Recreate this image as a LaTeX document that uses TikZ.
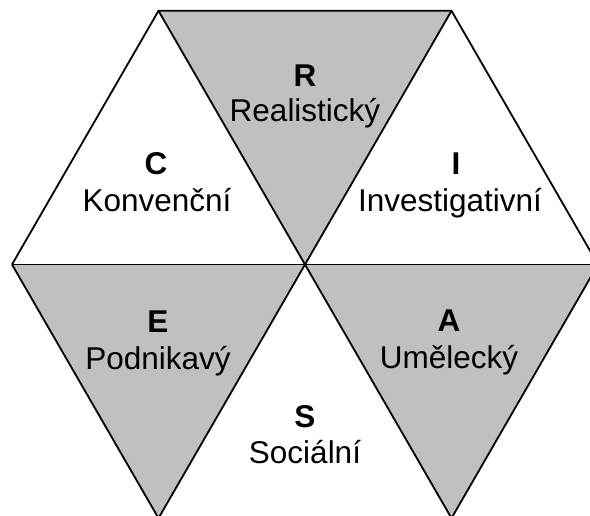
\documentclass[tikz,border=0pt]{standalone}
\usepackage{fontspec}
\setmainfont{Liberation Sans}
\definecolor{hexgray}{HTML}{C0C0C0}
\tikzset{
  edge/.style={line width=1.8pt, line join=miter},
  shaded/.style={fill=hexgray},
  typeletter/.style={anchor=base, inner sep=0pt, font=\fontsize{31.5}{38}\selectfont\bfseries},
  typename/.style={anchor=base, inner sep=0pt, font=\fontsize{31.5}{38}\selectfont},
}
\begin{document}
\begin{tikzpicture}[x=1pt, y=-1pt]
\useasboundingbox (0,0) rectangle (590,516);
\clip (0,0) rectangle (590,516);
% corners of the hexagon and its centre
\coordinate (O)  at (305,264.5);
\coordinate (TL) at (158.5,10.8);
\coordinate (TR) at (451.5,10.8);
\coordinate (L)  at (12,264.5);
\coordinate (R)  at (598,264.5);
\coordinate (BL) at (158.5,518.2);
\coordinate (BR) at (451.5,518.2);
% grey triangles
\fill[shaded] (TL) -- (TR) -- (O) -- cycle;
\fill[shaded] (L) -- (O) -- (BL) -- cycle;
\fill[shaded] (O) -- (R) -- (BR) -- cycle;
% outline and inner spokes
\draw[edge] (L) -- (TL) -- (TR) -- (R);
\draw[edge] (L) -- (R);
\draw[edge] (BL) -- (L);
\draw[edge] (BR) -- (R);
\draw[edge] (TL) -- (O) -- (TR);
\draw[edge] (BL) -- (O) -- (BR);
% labels
\node[typeletter] (rl) at (305,87) {R};
\node[typename]   (rn) at (305,122) {Realistický};
\node[typeletter] (cl) at (156,175) {C};
\node[typename]   (cn) at (157,212) {Konvenční};
\node[typeletter] (il) at (456,175) {I};
\node[typename]   (in) at (450,212) {Investigativní};
\node[typeletter] (el) at (158,333) {E};
\node[typename]   (en) at (158,370) {Podnikavý};
\node[typeletter] (al) at (449,332) {A};
\node[typename]   (an) at (449,368) {Umělecký};
\node[typeletter] (sl) at (305,428) {S};
\node[typename]   (sn) at (305,463) {Sociální};
\end{tikzpicture}
\end{document}
